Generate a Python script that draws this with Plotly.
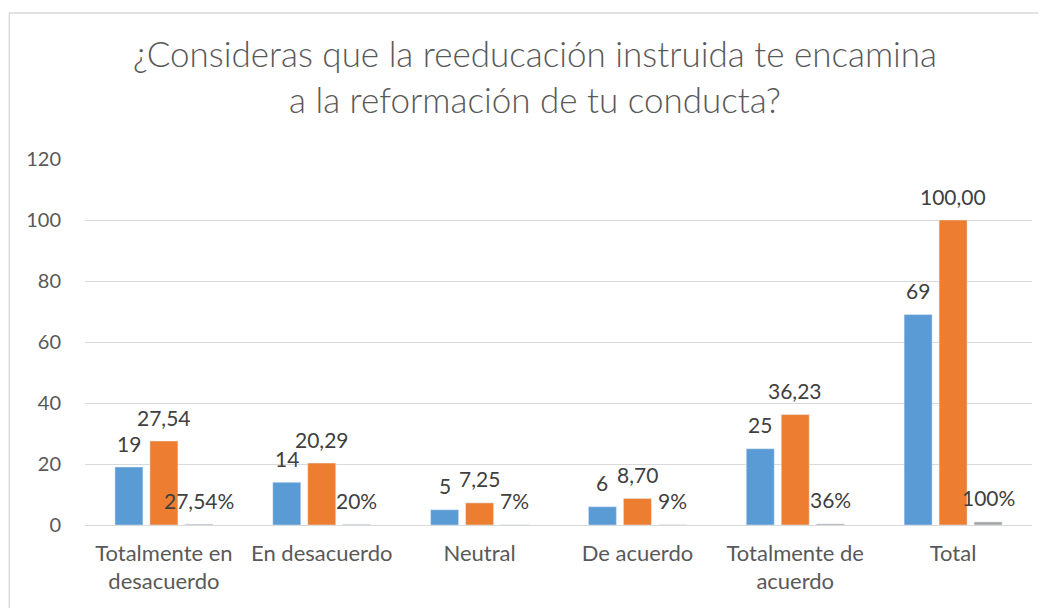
import plotly.graph_objects as go

categories = ["Totalmente en<br>desacuerdo", "En desacuerdo", "Neutral", "De acuerdo",
              "Totalmente de<br>acuerdo", "Total"]
frecuencia = [19, 14, 5, 6, 25, 69]
porcentaje = [27.54, 20.29, 7.25, 8.70, 36.23, 100.00]
fraccion = [0.2754, 0.2029, 0.0725, 0.087, 0.3623, 1.0]
fraccion_labels = ["27,54%", "20%", "7%", "9%", "36%", "100%"]
y_ticks = [0, 20, 40, 60, 80, 100, 120]

FONT = "Lato"
TXT = "#404040"
AX = "#595959"
COLORS = ["#5B9BD5", "#ED7D31", "#A5A5A5"]

# layout geometry (figure pixels; page has an 8px body margin)
W, H = 1046, 608
ML, MR, MT, MB = 76.5, 22, 151, 91
BARGAP, BARGROUPGAP = 0.335, 0.2

fig = go.Figure()
series = [
    (frecuencia, [str(v) for v in frecuencia], "Frecuencia"),
    (porcentaje, [f"{v:.2f}".replace(".", ",") for v in porcentaje], "Porcentaje"),
    (fraccion, fraccion_labels, "Fracción"),
]
for (vals, labels, name), col in zip(series, COLORS):
    fig.add_trace(go.Bar(x=categories, y=vals, marker_color=col, name=name,
                         hoverinfo="x+y"))

plot_w = W - ML - MR
cat_w = plot_w / len(categories)
slot = (1 - BARGAP) * cat_w / 3
for i, (vals, labels, name) in enumerate(series):
    for c, v, lab in zip(categories, vals, labels):
        fig.add_annotation(x=c, y=v, text=lab, showarrow=False,
                           xshift=(i - 1) * slot, yshift=24,
                           font=dict(family=FONT, size=21, color=TXT))

fig.update_layout(
    width=W, height=H,
    separators=", ",
    barmode="group", bargap=BARGAP, bargroupgap=BARGROUPGAP,
    showlegend=False,
    plot_bgcolor="white", paper_bgcolor="white",
    margin=dict(l=ML, r=MR, t=MT, b=MB),
    title=dict(text="¿Consideras que la reeducación instruida te encamina<br>a la reformación de tu conducta?",
               x=527 / W, xanchor="center", xref="container",
               y=1 - 59 / H, yanchor="middle", yref="container",
               font=dict(family=FONT, size=35, color=AX, weight=300)),
    font=dict(family=FONT, color=AX),
)
fig.update_yaxes(range=[0, 120], tickvals=y_ticks, showgrid=True, gridcolor="#D9D9D9",
                 gridwidth=1.3, zeroline=True, zerolinecolor="#D9D9D9", zerolinewidth=1.3,
                 tickfont=dict(family=FONT, size=20, color=AX), ticks="", ticklabelstandoff=23,
                 automargin=False)
fig.update_xaxes(showline=True, linecolor="#D9D9D9", linewidth=1.3,
                 tickfont=dict(family=FONT, size=22, color=AX), ticks="", ticklabelstandoff=8,
                 automargin=False)

# chart frame
fig.add_shape(type="rect", xref="paper", yref="paper",
              x0=(0.8 - ML) / plot_w, x1=(W + 10 - ML) / plot_w,
              y0=-(MB + 10) / (H - MT - MB), y1=(H - MB - 5) / (H - MT - MB),
              line=dict(color="#D9D9D9", width=1.5), fillcolor="rgba(0,0,0,0)", layer="below")

fig.write_html("out.html")
